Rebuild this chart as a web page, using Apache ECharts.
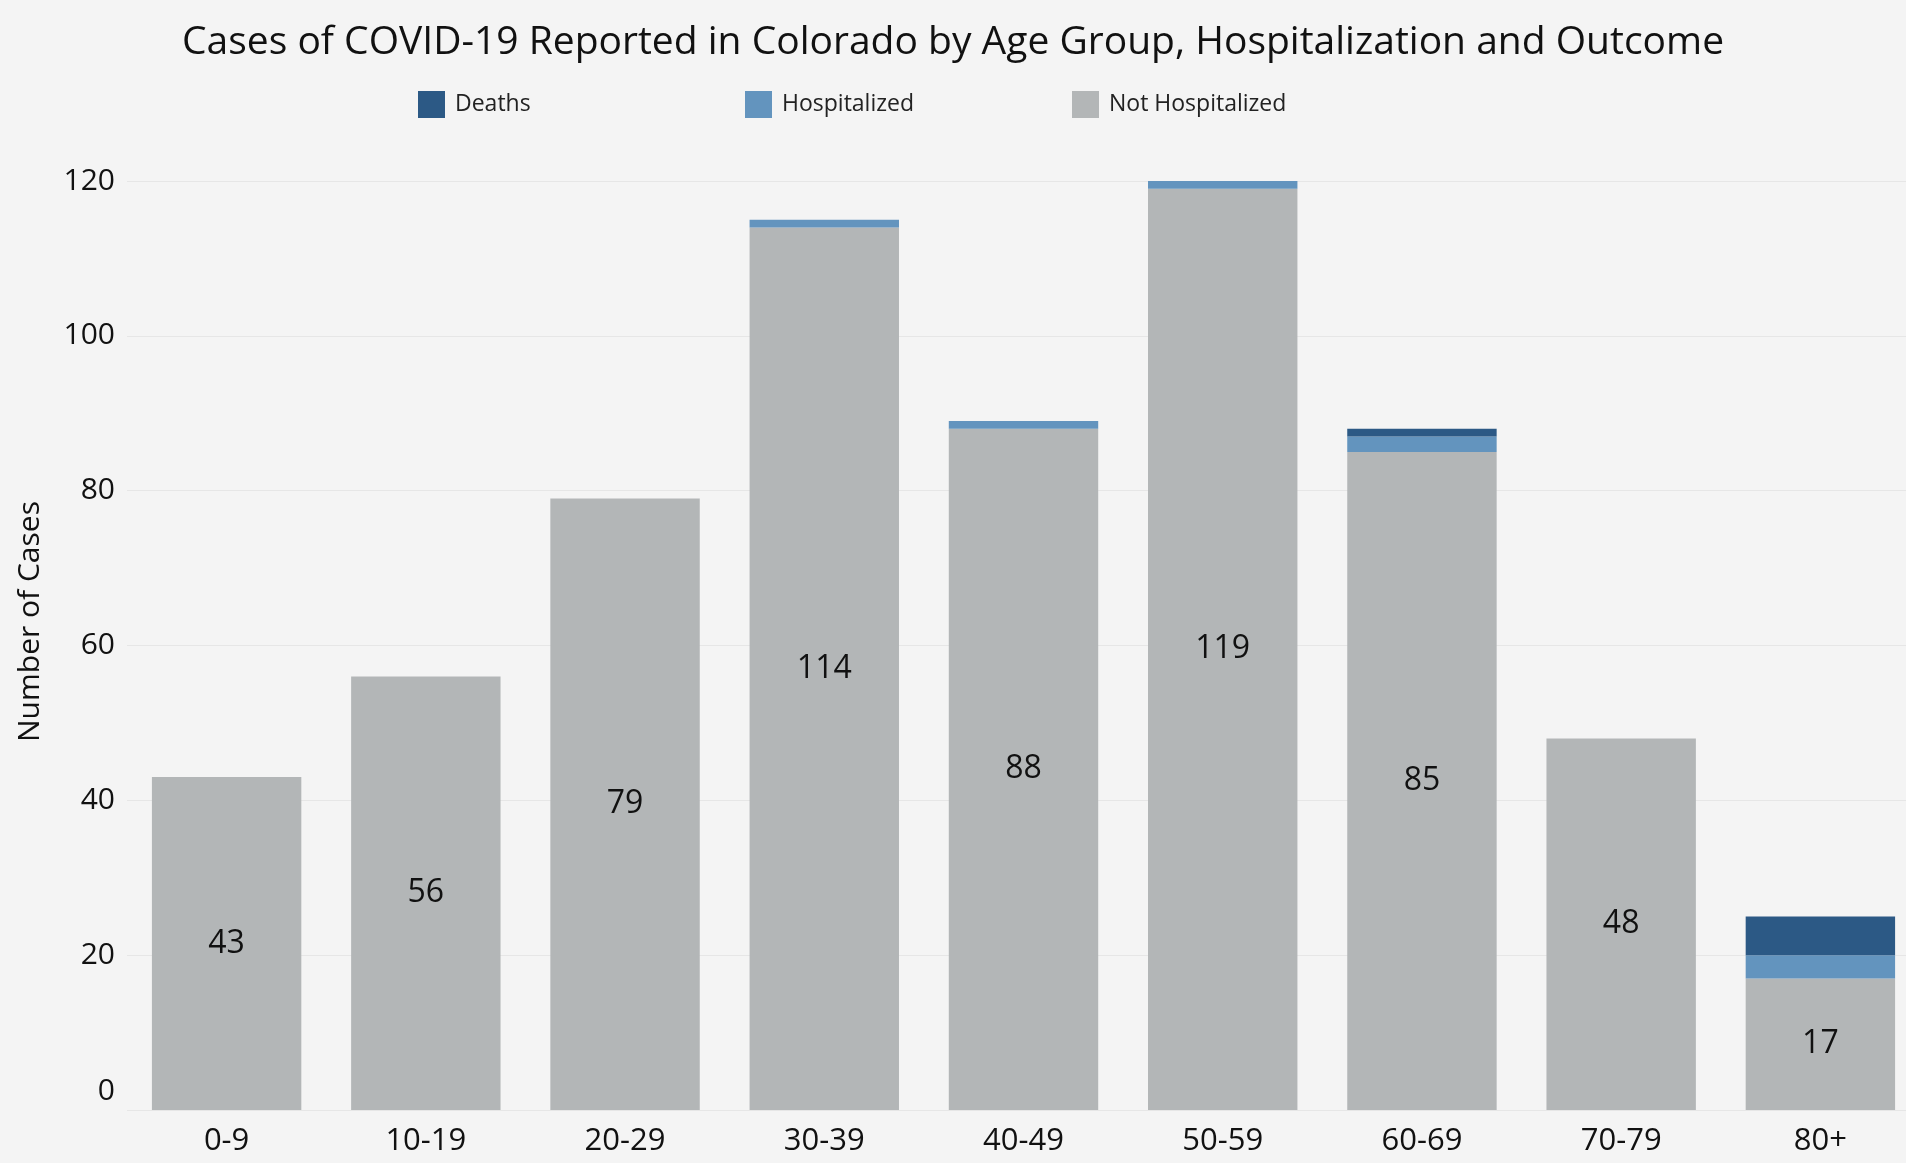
<!DOCTYPE html>
<html lang="en">
<head>
    <meta charset="UTF-8">
    <title>COVID-19 Cases in Colorado by Age Group</title>
    <style>
        html, body { margin: 0; padding: 0; background: #f4f4f4; }
        #chart { width: 1906px; height: 1163px; }
    </style>
    <script src="https://cdn.jsdelivr.net/npm/echarts@6/dist/echarts.min.js"></script>
</head>
<body>
    <div id="chart"></div>
    <script>
        // age groups and case counts
        var ageGroups = ['0-9', '10-19', '20-29', '30-39', '40-49', '50-59', '60-69', '70-79', '80+'];
        var notHospitalized = [43, 56, 79, 114, 88, 119, 85, 48, 17];
        var hospitalized = [0, 0, 0, 1, 1, 1, 2, 0, 3];
        var deaths = [0, 0, 0, 0, 0, 0, 1, 0, 5];
        var yTicks = [0, 20, 40, 60, 80, 100, 120];

        var font = 'Open Sans';
        var chart = echarts.init(document.getElementById('chart'));

        function legendAt(name, left) {
            return {
                data: [name],
                left: left,
                top: 86,
                itemWidth: 27,
                itemHeight: 27,
                icon: 'rect',
                textStyle: { fontFamily: font, fontSize: 23, color: '#222', padding: [0, 0, 0, 5] }
            };
        }

        var option = {
            backgroundColor: '#f4f4f4',
            animation: false,
            title: {
                text: 'Cases of COVID-19 Reported in Colorado by Age Group, Hospitalization and Outcome',
                left: 'center',
                top: 18,
                textStyle: { fontFamily: font, fontSize: 39, fontWeight: 'normal', color: '#111' }
            },
            legend: [
                legendAt('Deaths', 413),
                legendAt('Hospitalized', 740),
                legendAt('Not Hospitalized', 1067)
            ],
            // the plot runs a little past the right edge of the canvas
            grid: { left: 127, width: 1793, top: 181, bottom: 53, containLabel: false, outerBoundsMode: 'none' },
            xAxis: {
                type: 'category',
                data: ageGroups,
                axisLine: { show: false },
                axisTick: { show: false },
                axisLabel: { fontFamily: font, fontSize: 31, color: '#111', margin: 16 }
            },
            yAxis: {
                type: 'value',
                min: yTicks[0],
                max: yTicks[yTicks.length - 1],
                interval: 20,
                name: 'Number of Cases',
                nameLocation: 'middle',
                nameGap: 82,
                nameTextStyle: { fontFamily: font, fontSize: 30, color: '#111', padding: [0, 0, 0, 48] },
                axisLine: { show: false },
                axisTick: { show: false },
                splitLine: { lineStyle: { color: '#e6e6e6', width: 1 } },
                axisLabel: {
                    fontFamily: font, fontSize: 30, color: '#111', margin: 12,
                    formatter: function (v) { return v === 0 ? '{z|0}' : String(v); },
                    rich: { z: { fontFamily: font, fontSize: 30, color: '#111', padding: [0, 0, 38, 0] } }
                }
            },
            series: [
                {
                    name: 'Not Hospitalized', type: 'bar', stack: 'cases', barWidth: '75%',
                    data: notHospitalized,
                    itemStyle: { color: '#b3b6b7' },
                    label: { show: true, position: 'inside', fontFamily: font, fontSize: 32, color: '#111' }
                },
                {
                    name: 'Hospitalized', type: 'bar', stack: 'cases', barWidth: '75%',
                    data: hospitalized,
                    itemStyle: { color: '#6394be' }
                },
                {
                    name: 'Deaths', type: 'bar', stack: 'cases', barWidth: '75%',
                    data: deaths,
                    itemStyle: { color: '#2c5985' }
                }
            ]
        };

        chart.setOption(option);
    </script>
</body>
</html>
